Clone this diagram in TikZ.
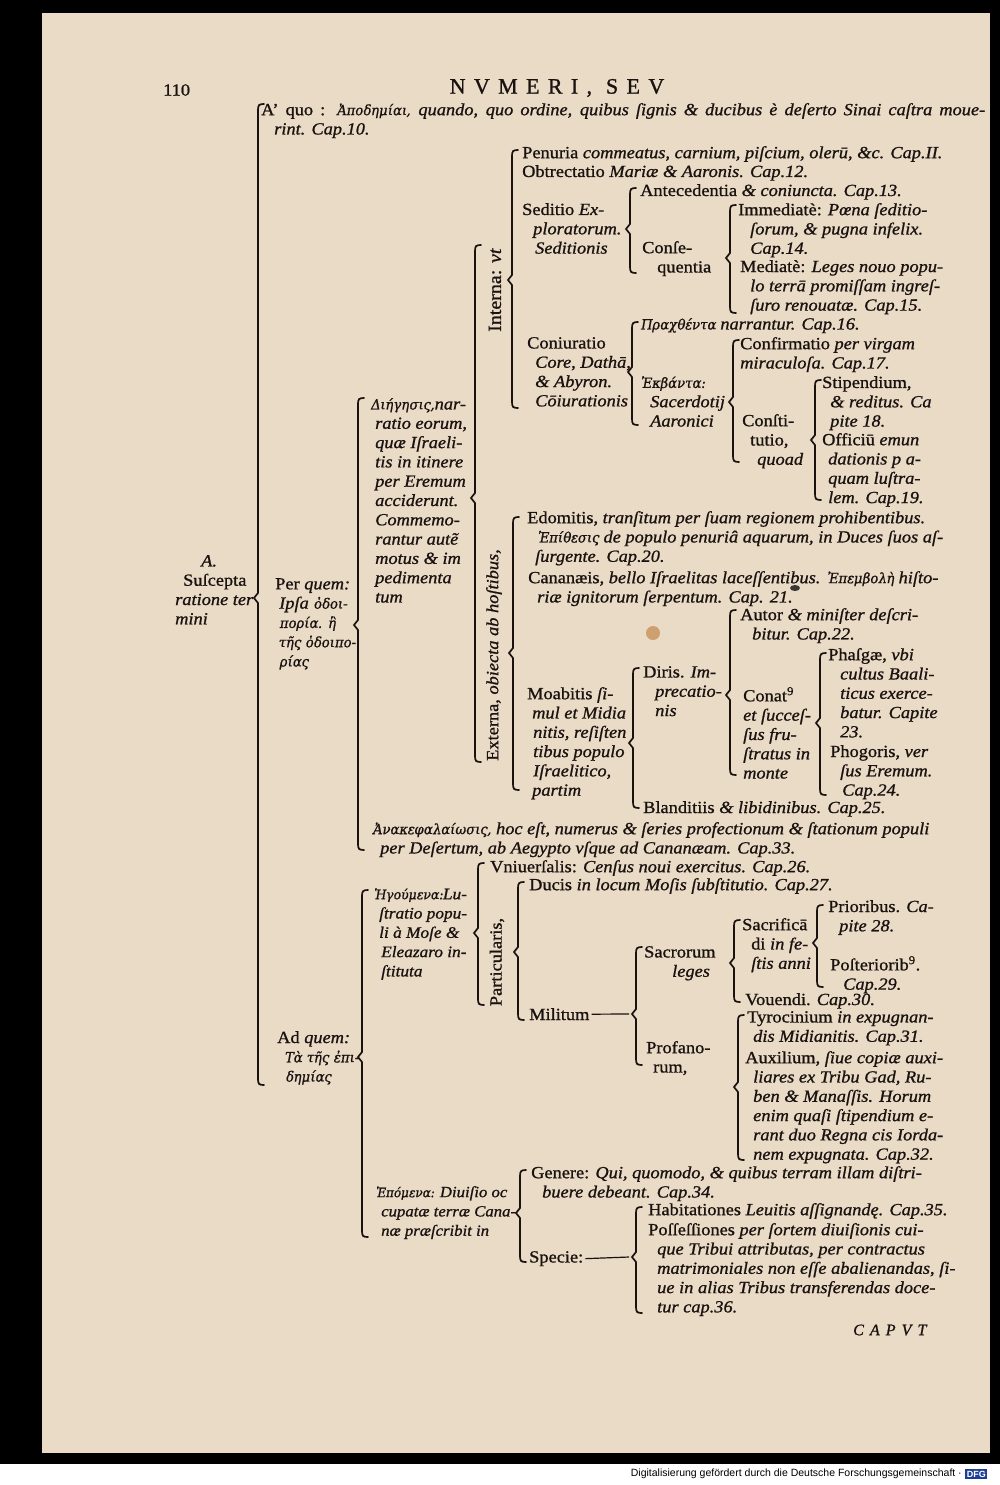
\documentclass[tikz,border=0pt]{standalone}
\usepackage{fontspec}
\setmainfont{Liberation Serif}[FakeStretch=1.08,FakeBold=1]
\newfontfamily\grk{DejaVu Serif}[Scale=0.83,FakeStretch=0.94,FakeSlant=0.18,FakeBold=1]
\newfontfamily\headfont{Liberation Serif}[LetterSpace=38,FakeBold=1]
\newfontfamily\stripfont{Liberation Sans}
\usetikzlibrary{positioning}
\definecolor{paper}{RGB}{234,219,199}
\definecolor{ink}{RGB}{26,18,15}
\definecolor{dfgblue}{RGB}{28,62,148}
\newcommand\fs{\fontsize{17}{19.3}\selectfont}
\newcommand\gk[1]{{\grk\upshape #1}}
\newcommand\ix[1]{\textit{#1}}

\begin{document}
\begin{tikzpicture}[x=1pt,y=-1pt,
  txt/.style={anchor=north west,align=left,inner sep=0pt,font=\fs,text=ink},
  vtxt/.style={inner sep=0pt,font=\fs,text=ink,rotate=90},
  brk/.style={draw=ink,line width=1.7pt,line cap=round},
  dashline/.style={draw=ink,line width=1.2pt}]
  \useasboundingbox (0,0) rectangle (1000,1485);
  % scan: dark surround, page, credit strip
  \fill[black] (0,0) rectangle (1000,1485);
  \fill[white] (0,1464) rectangle (1000,1485);
  \fill[paper] (42,13) rectangle (990,1453);
  \fill[brown!65!paper] (653,633) circle (7);
  \fill[ink!85] (795,588) ellipse (5 and 3);

  % running head
  \node[anchor=west,inner sep=0pt,text=ink,font=\fontsize{17}{17}\selectfont] (folio) at (163,90) {110};
  \node[inner sep=0pt,text=ink,font=\headfont\fontsize{22}{22}\selectfont] (head) at (557,88) {NVMERI, SEV};

  % root
  \node[txt] (root) at (175,555) {\hspace*{26pt}\ix{A.}\\\hspace*{8pt}Suſcepta\\\ix{ratione ter}\\\ix{mini}};
  \node[txt] (aquo) at (261,103) {\makebox[724pt][s]{A' quo : \gk{Ἀποδημίαι,} \ix{quando, quo ordine, quibus ſignis \& ducibus è deſerto Sinai caſtra moue-}}\\\hspace*{13pt}\ix{rint. Cap.10.}};
  \node[txt] (perq) at (275,578) {Per \ix{quem:}\\\hspace*{4pt}\ix{Ipſa} \gk{ὁδοι-}\\\hspace*{4pt}\gk{πορία. ἢ}\\\hspace*{3pt}\gk{τῆς ὁδοιπο-}\\\hspace*{4pt}\gk{ρίας}};
  \node[txt] (adq) at (277,1031) {Ad \ix{quem:}\\\hspace*{7pt}\gk{Τὰ τῆς ἐπι-}\\\hspace*{8pt}\gk{δημίας}};

  % Per quem
  \node[txt] (dieg) at (370,398) {\gk{Διήγησις,}\ix{nar-}\\\hspace*{5pt}\ix{ratio eorum,}\\\hspace*{5pt}\ix{quæ Iſraeli-}\\\hspace*{5pt}\ix{tis in itinere}\\\hspace*{5pt}\ix{per Eremum}\\\hspace*{5pt}\ix{acciderunt.}\\\hspace*{5pt}\ix{Commemo-}\\\hspace*{5pt}\ix{rantur autẽ}\\\hspace*{5pt}\ix{motus \& im}\\\hspace*{5pt}\ix{pedimenta}\\\hspace*{5pt}\ix{tum}};
  \node[txt] (ana) at (372,822) {\gk{Ἀνακεφαλαίωσις,} \ix{hoc eſt, numerus \& ſeries profectionum \& ſtationum populi}\\\hspace*{8pt}\ix{per Deſertum, ab Aegypto vſque ad Cananæam. Cap.33.}};
  \node[vtxt,font=\fontsize{18.5}{19.3}\selectfont] (intr) at (495,290) {Interna: \ix{vt}};
  \node[vtxt] (extr) at (494,655) {Externa, \ix{obiecta ab hoſtibus,}};

  % Interna
  \node[txt] (pen) at (522,146) {Penuria \ix{commeatus, carnium, piſcium, olerū, \&c. Cap.II.}};
  \node[txt] (obt) at (522,165) {Obtrectatio \ix{Mariæ \& Aaronis. Cap.12.}};
  \node[txt] (sed) at (522,203) {Seditio \ix{Ex-}\\\hspace*{11pt}\ix{ploratorum.}\\\hspace*{13pt}\ix{Seditionis}};
  \node[txt] (ant) at (640,184) {Antecedentia \ix{\& coniuncta. Cap.13.}};
  \node[txt] (cons) at (642,241) {Conſe-\\\hspace*{15pt}quentia};
  \node[txt] (imm) at (738,203) {Immediatè: \ix{Pœna ſeditio-}\\\hspace*{12pt}\ix{ſorum, \& pugna infelix.}\\\hspace*{12pt}\ix{Cap.14.}};
  \node[txt] (med) at (740,260) {Mediatè: \ix{Leges nouo popu-}\\\hspace*{10pt}\ix{lo terrā promiſſam ingreſ-}\\\hspace*{10pt}\ix{ſuro renouatæ. Cap.15.}};
  \node[txt] (pra) at (640,318) {\gk{Πραχθέντα} \ix{narrantur. Cap.16.}};
  \node[txt] (conj) at (527,337) {Coniuratio\\\hspace*{8pt}\ix{Core, Dathā,}\\\hspace*{8pt}\ix{\& Abyron.}\\\hspace*{8pt}\ix{Cōiurationis}};
  \node[txt] (ekb) at (640,376) {\gk{Ἐκβάντα:}\\\hspace*{10pt}\ix{Sacerdotij}\\\hspace*{10pt}\ix{Aaronici}};
  \node[txt] (cnf) at (740,337) {Confirmatio \ix{per virgam}\\\ix{miraculoſa. Cap.17.}};
  \node[txt] (cst) at (742,414) {Conſti-\\\hspace*{8pt}tutio,\\\hspace*{15pt}\ix{quoad}};
  \node[txt] (sti) at (822,376) {Stipendium,\\\hspace*{8pt}\ix{\& reditus. Ca}\\\hspace*{8pt}\ix{pite 18.}};
  \node[txt] (off) at (822,433) {Officiū \ix{emun}\\\hspace*{6pt}\ix{dationis p a-}\\\hspace*{6pt}\ix{quam luſtra-}\\\hspace*{6pt}\ix{lem. Cap.19.}};

  % Externa
  \node[txt] (edo) at (527,511) {Edomitis, \ix{tranſitum per ſuam regionem prohibentibus.}\\\hspace*{10pt}\gk{Ἐπίθεσις} \ix{de populo penuriâ aquarum, in Duces ſuos aſ-}\\\hspace*{8pt}\ix{ſurgente. Cap.20.}};
  \node[txt] (can) at (528,571) {Cananæis, \ix{bello Iſraelitas laceſſentibus.} \gk{Ἐπεμβολὴ} \ix{hiſto-}\\\hspace*{9pt}\ix{riæ ignitorum ſerpentum. Cap. 21.}};
  \node[txt] (moa) at (527,687) {Moabitis \ix{ſi-}\\\hspace*{5pt}\ix{mul et Midia}\\\hspace*{6pt}\ix{nitis, reſiſten}\\\hspace*{6pt}\ix{tibus populo}\\\hspace*{6pt}\ix{Iſraelitico,}\\\hspace*{5pt}\ix{partim}};
  \node[txt] (dir) at (643,666) {Diris. \ix{Im-}\\\hspace*{12pt}\ix{precatio-}\\\hspace*{12pt}\ix{nis}};
  \node[txt] (bla) at (643,801) {Blanditiis \ix{\& libidinibus. Cap.25.}};
  \node[txt] (aut) at (740,608) {Autor \ix{\& miniſter deſcri-}\\\hspace*{12pt}\ix{bitur. Cap.22.}};
  \node[txt] (cnt) at (743,687) {Conat\textsuperscript{9}\\\ix{et ſucceſ-}\\\ix{ſus fru-}\\\ix{ſtratus in}\\\ix{monte}};
  \node[txt] (pha) at (828,648) {Phaſgæ, \ix{vbi}\\\hspace*{12pt}\ix{cultus Baali-}\\\hspace*{12pt}\ix{ticus exerce-}\\\hspace*{12pt}\ix{batur. Capite}\\\hspace*{12pt}\ix{23.}};
  \node[txt] (pho) at (830,745) {Phogoris, \ix{ver}\\\hspace*{10pt}\ix{ſus Eremum.}\\\hspace*{12pt}\ix{Cap.24.}};

  % Ad quem
  \node[txt,font=\fontsize{16}{19.3}\selectfont] (heg) at (373,888) {\gk{Ἡγούμενα:}\ix{Lu-}\\\hspace*{6pt}\ix{ſtratio popu-}\\\hspace*{6pt}\ix{li à Moſe \&}\\\hspace*{8pt}\ix{Eleazaro in-}\\\hspace*{8pt}\ix{ſtituta}};
  \node[txt] (uni) at (490,860) {Vniuerſalis: \ix{Cenſus noui exercitus. Cap.26.}};
  \node[vtxt] (part) at (497,962) {Particularis,};
  \node[txt] (duc) at (529,878) {Ducis \ix{in locum Moſis ſubſtitutio. Cap.27.}};
  \node[txt] (mil) at (529,1008) {Militum};
  \node[txt] (sacr) at (644,946) {Sacrorum\\\hspace*{28pt}\ix{leges}};
  \node[txt] (prof) at (646,1041) {Profano-\\\hspace*{7pt}rum,};
  \node[txt] (sacf) at (742,918) {Sacrificā\\\hspace*{9pt}di \ix{in fe-}\\\hspace*{9pt}\ix{ſtis anni}};
  \node[txt] (vou) at (745,993) {Vouendi. \ix{Cap.30.}};
  \node[txt] (pri) at (828,900) {Prioribus. \ix{Ca-}\\\hspace*{11pt}\ix{pite 28.}};
  \node[txt] (post) at (830,956) {Poſteriorib\textsuperscript{9}.\\\hspace*{13pt}\ix{Cap.29.}};
  \node[txt] (tyr) at (747,1011) {Tyrocinium \ix{in expugnan-}\\\hspace*{6pt}\ix{dis Midianitis. Cap.31.}};
  \node[txt] (aux) at (745,1051) {Auxilium, \ix{ſiue copiæ auxi-}\\\hspace*{8pt}\ix{liares ex Tribu Gad, Ru-}\\\hspace*{8pt}\ix{ben \& Manaſſis. Horum}\\\hspace*{8pt}\ix{enim quaſi ſtipendium e-}\\\hspace*{8pt}\ix{rant duo Regna cis Iorda-}\\\hspace*{8pt}\ix{nem expugnata. Cap.32.}};
  \node[txt,font=\fontsize{15.5}{19.3}\selectfont] (epo) at (375,1186) {\gk{Ἑπόμενα:} \ix{Diuiſio oc}\\\hspace*{6pt}\ix{cupatæ terræ Cana-}\\\hspace*{6pt}\ix{næ præſcribit in}};
  \node[txt] (gen) at (531,1166) {Genere: \ix{Qui, quomodo, \& quibus terram illam diſtri-}\\\hspace*{11pt}\ix{buere debeant. Cap.34.}};
  \node[txt] (spe) at (529,1251) {Specie:};
  \node[txt] (hab) at (648,1203) {Habitationes \ix{Leuitis aſſignandę. Cap.35.}};
  \node[txt] (poss) at (648,1223) {Poſſeſſiones \ix{per ſortem diuiſionis cui-}\\\hspace*{9pt}\ix{que Tribui attributas, per contractus}\\\hspace*{9pt}\ix{matrimoniales non eſſe abalienandas, ſi-}\\\hspace*{9pt}\ix{ue in alias Tribus transferendas doce-}\\\hspace*{9pt}\ix{tur cap.36.}};
  \node[anchor=west,inner sep=0pt,text=ink,font=\headfont\fontsize{16}{16}\selectfont\itshape] (caput) at (853,1330) {CAPVT};

  % dashes into braces
  \coordinate (milc) at (629,1014);
  \coordinate (spec) at (629,1257);
  \draw[dashline] ([xshift=2pt]mil.east) -- (milc);
  \draw[dashline] ([xshift=2pt]spe.east) -- (spec);

  % braces: x / top / bottom / cusp
  \foreach \bx/\bt/\bb/\bc in {258/104/1085/598, 358/398/850/625, 475/245/762/498,
      512/150/408/280, 630/188/273/229, 730/205/313/258, 632/322/425/372,
      733/340/462/402, 815/380/500/440, 513/517/790/653, 633/668/808/743,
      730/610/775/695, 820/653/795/723, 362/890/1237/1057, 478/863/1005/933,
      518/882/1020/952, 636/947/1065/1014, 734/920/1002/963, 817/905/987/943,
      738/1015/1160/1087, 520/1170/1262/1213, 636/1207/1313/1257}
    \draw[brk] (\bx+6,\bt) .. controls (\bx+1,\bt) and (\bx,\bt+1) .. (\bx,\bt+6)
      -- (\bx,\bc-5) -- (\bx-4,\bc) -- (\bx,\bc+5) -- (\bx,\bb-6)
      .. controls (\bx,\bb-1) and (\bx+1,\bb) .. (\bx+6,\bb);

  % credit line
  \node[anchor=east,inner sep=0pt,font=\stripfont\fontsize{10.5}{10.5}\selectfont] (credit) at (962,1474) {Digitalisierung gefördert durch die Deutsche Forschungsgemeinschaft ·};
  \node[right=3pt of credit,fill=dfgblue,text=white,inner sep=1.6pt,font=\stripfont\bfseries\fontsize{9}{9}\selectfont] (dfg) {DFG};
\end{tikzpicture}
\end{document}
